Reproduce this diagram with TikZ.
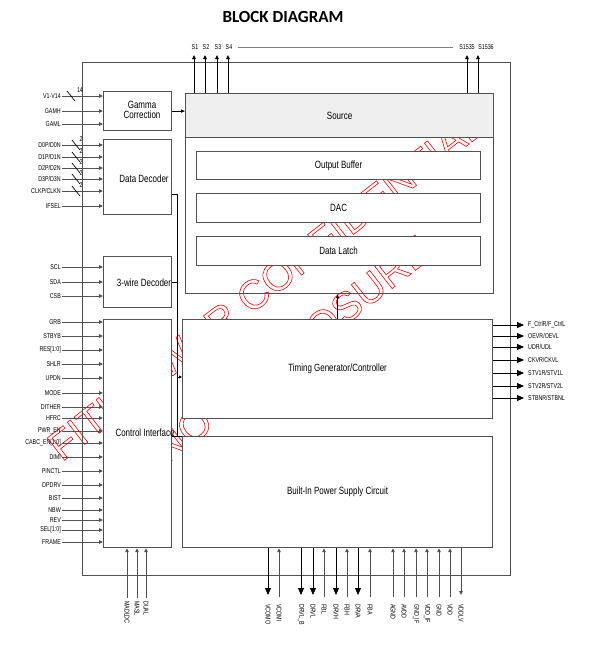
\documentclass[tikz,border=0pt]{standalone}
\usepackage{fontspec}
\setmainfont{Liberation Sans}
\newfontfamily\narrowsf[FakeStretch=0.76]{Liberation Sans}
\newfontfamily\titlesf{Carlito}
\usetikzlibrary{arrows.meta,positioning,calc}
\definecolor{bdline}{HTML}{505050}
\definecolor{bdhead}{HTML}{EFEFEF}
\definecolor{bdmark}{HTML}{FF0000}
\newcommand\outlined[1]{\special{pdf:literal direct 1 Tr 0.6 w}#1\special{pdf:literal direct 0 Tr}}
\tikzset{
  frame/.style={draw=bdline, line width=1.2pt, inner sep=0pt, anchor=north west},
  blk/.style={draw=bdline, fill=white, line width=1.2pt, inner sep=0pt, anchor=north west},
  blktext/.style={font=\fontsize{10.5}{12}\narrowsf, align=center, inner sep=1pt},
  pinlbl/.style={font=\fontsize{7}{8}\narrowsf, inner sep=1pt},
  pinin/.style={draw=bdline, line width=0.9pt, -{Triangle[length=4pt,width=3.5pt]}},
  pinbig/.style={draw=black, line width=0.9pt, -{Triangle[length=7pt,width=6pt]}},
  wire/.style={draw=black, line width=0.8pt},
  busmark/.style={draw=black, line width=0.7pt},
  wmark/.style={font=\fontsize{41}{41}\selectfont, text=bdmark, inner sep=0pt}
}
\begin{document}
\begin{tikzpicture}[x=1pt,y=-1pt]
  \useasboundingbox (0,0) rectangle (589,646);

  % watermark first, the white blocks cover it
  \node[wmark,rotate=38] (wm1) at (266,285) {\outlined{FITIPOWER CONFIDENTIAL}};
  \node[wmark,rotate=38] (wm2) at (292,349) {\outlined{NO DISCLOSURE}};

  \node[font=\fontsize{17}{17}\titlesf\bfseries] (title) at (283,17) {BLOCK DIAGRAM};

  % chip outline and blocks
  \node[frame, minimum width=428, minimum height=513] (chip) at (82,62) {};
  \node[blk, minimum width=68, minimum height=39]  (gam) at (103,91)  {};
  \node[blk, minimum width=68, minimum height=75]  (dd)  at (103,139) {};
  \node[blk, minimum width=68, minimum height=51]  (tw)  at (103,256) {};
  \node[blk, minimum width=68, minimum height=228] (ci)  at (103,319) {};
  \node[blk, fill=bdhead, minimum width=308, minimum height=44] (srchd) at (185,93) {};
  \node[frame, minimum width=308, minimum height=200] (src) at (185,93) {};
  \node[blk, minimum width=284, minimum height=28] (ob)  at (196,151) {};
  \node[blk, minimum width=284, minimum height=29] (dac) at (196,193) {};
  \node[blk, minimum width=284, minimum height=29] (dl)  at (196,236) {};
  \node[blk, minimum width=310, minimum height=99]  (tg) at (182,319) {};
  \node[blk, minimum width=310, minimum height=111] (pw) at (182,436) {};

  \node[blktext] (gamt) at (142,110) {Gamma\\[-2pt]Correction};
  \node[blktext] (ddt)  at (144,179) {Data Decoder};
  \node[blktext] (twt)  at (144,283) {3-wire Decoder};
  \node[blktext] (cit)  at (145,433) {Control Interface};
  \node[blktext] (srct) at (srchd.center) {Source};
  \node[blktext] (obt)  at (ob.center)  {Output Buffer};
  \node[blktext] (dact) at (dac.center) {DAC};
  \node[blktext] (dlt)  at (dl.center)  {Data Latch};
  \node[blktext] (tgt)  at (tg.center)  {Timing Generator/Controller};
  \node[blktext] (pwt)  at (pw.center)  {Built-In Power Supply Circuit};

  % internal connections
  \coordinate (busT) at (177,194);
  \coordinate (busA) at (177,377);
  \coordinate (busB) at (177,436);
  \draw[wire] (dd.east |- busT) -- (busT) -- (busB) -- (pw.west |- busB);
  \draw[wire] (tw.east) -- (tw.east -| busT);
  \draw[wire] (ci.east |- busB) -- (busB);
  \draw[wire,-{Triangle[length=3pt,width=3pt]}] (busA) -- (tg.west |- busA);
  \draw[wire,-{Triangle[length=4pt,width=3pt]}] (tg.north) -- (tg.north |- src.south);
  \draw[wire,-{Triangle[length=4pt,width=3pt]}] (gam.east) -- (gam.east -| src.west);

  % source outputs
  \foreach \x/\lx/\t [count=\i] in {194/195/S1, 205/206/S2, 217/218/S3, 228/229/S4,
                                   467/467/S1535, 478/486/S1536}{
    \node[pinlbl] (sp\i) at (\lx,47) {\t};
    \coordinate (st\i) at (\x,55);
    \draw[pinin,draw=black] (src.north -| st\i) -- (st\i);
  }
  \draw[draw=gray, line width=1pt] ([xshift=5pt]sp4.east) -- ([xshift=-5pt]sp5.west);

  % left inputs
  \foreach \y/\t [count=\i] in {96/V1-V14, 111/GAMH, 124/GAML}{
    \node[pinlbl, anchor=east] (ga\i) at (62,\y) {\t};
    \draw[pinin] (ga\i.east) -- (gam.west |- ga\i.east);
  }
  \draw[busmark] ($(ga1.east)+(5,-5)$) -- ++(8,10);
  \node[pinlbl] (n14) at ($(ga1.east)+(18,-6)$) {14};

  \foreach \y/\t [count=\i] in {145/{D0P/D0N}, 157/{D1P/D1N}, 168/{D2P/D2N},
                                179/{D3P/D3N}, 191/{CLKP/CLKN}, 206/IFSEL}{
    \node[pinlbl, anchor=east] (dd\i) at (62,\y) {\t};
    \draw[pinin] (dd\i.east) -- (dd.west |- dd\i.east);
    \ifnum\i<6
      \draw[busmark] ($(dd\i.east)+(10,-5)$) -- ++(8,10);
      \node[pinlbl] (nd\i) at ($(dd\i.east)+(19,-6)$) {2};
    \fi
  }

  \foreach \y/\t [count=\i] in {267/SCL, 282/SDA, 296/CSB}{
    \node[pinlbl, anchor=east] (tw\i) at (62,\y) {\t};
    \draw[pinin] (tw\i.east) -- (tw.west |- tw\i.east);
  }

  \foreach \y/\t [count=\i] in {322/GRB, 336/STBYB, 350/{RES[1:0]}, 364/SHLR, 378/UPDN,
      393/MODE, 407/DITHER, 418/HFRC, 431/{PWR\_EN}, 443/{CABC\_EN[1:0]}, 457/DIMI,
      471/PINCTL, 485/OPDRV, 498/BIST, 510/NBW, 520/REV, 530/{SEL[1:0]}, 542/FRAME}{
    \node[pinlbl, anchor=east] (ci\i) at (62,\y) {\t};
    \draw[pinin] (ci\i.east) -- (ci.west |- ci\i.east);
  }

  % timing outputs
  \foreach \y/\t [count=\i] in {325/{F\_CtrlR/F\_CtrlL}, 336/{OEVR/OEVL}, 347/{UDR/UDL},
      360/{CKVR/CKVL}, 373/{STV1R/STV1L}, 386/{STV2R/STV2L}, 398/{STBNR/STBNL}}{
    \node[pinlbl, anchor=west] (tg\i) at (527,\y) {\t};
    \draw[pinbig] (tg.east |- tg\i.west) -- ([xshift=-3pt]tg\i.west);
  }

  % control interface bottom pins
  \foreach \x/\t [count=\i] in {127/MADLDC, 137/MASL, 146/DUAL}{
    \node[pinlbl, rotate=-90, anchor=west] (cb\i) at (\x,600) {\t};
    \draw[pinin] ([yshift=2pt]cb\i.west) -- (ci.south -| cb\i.west);
  }

  % power pins
  \foreach \x/\t [count=\i] in {279/VCOMI, 324/FBL, 347/FBH, 370/FBA, 393/AGND, 404/AVDD,
      416/{GND\_IF}, 427/{VDD\_IF}, 439/GND, 450/VDD}{
    \node[pinlbl, rotate=-90, anchor=west] (pu\i) at (\x,603) {\t};
    \draw[pinin] ([yshift=6pt]pu\i.west) -- (pw.south -| pu\i.west);
  }
  \foreach \x/\t [count=\i] in {268/VCOMO, 301/{DRVL\_B}, 313/DRVL, 336/DRVH, 358/DRVA}{
    \node[pinlbl, rotate=-90, anchor=west] (pd\i) at (\x,603) {\t};
    \draw[pinbig] (pw.south -| pd\i.west) -- ([yshift=8pt]pd\i.west);
  }
  \node[pinlbl, rotate=-90, anchor=west] (pv) at (461,603) {VDDLV};
  \draw[pinin] (pw.south -| pv.west) -- ([yshift=8pt]pv.west);
\end{tikzpicture}
\end{document}
